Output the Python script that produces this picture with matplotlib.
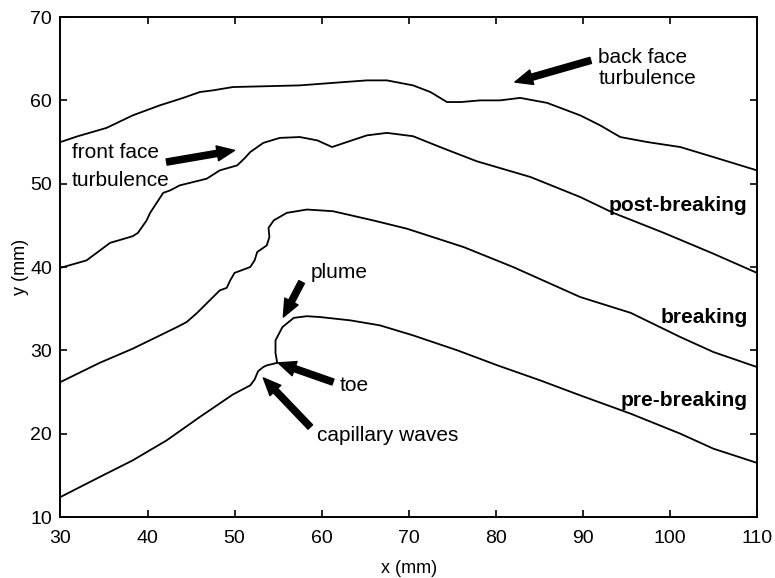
import matplotlib
matplotlib.use("Agg")
import matplotlib.pyplot as plt

plt.rcParams['font.family'] = ['Liberation Sans', 'DejaVu Sans']

# surface profiles (mm)
top_x = [30, 32, 35.3, 38.3, 41.4, 44.1, 46.0, 47.5, 49.8, 53.7, 57.5, 61.3, 65.2, 67.5,
         70.5, 72.5, 74.4, 76, 78.2, 80.5, 82.8, 85.9, 89.7, 92, 94.3, 97.4, 101.2, 105, 110]
top_y = [55.0, 55.7, 56.7, 58.2, 59.4, 60.3, 61.0, 61.2, 61.6, 61.7, 61.8, 62.1, 62.4, 62.4,
         61.8, 61.0, 59.8, 59.8, 60.0, 60.0, 60.3, 59.7, 58.2, 57.0, 55.6, 55.0, 54.4, 53.2, 51.6]

post_x = [30, 33, 35.7, 38.3, 38.9, 39.9, 40.3, 41.8, 42.6, 43.7, 46.8, 48.3, 50.3, 51.2, 51.8,
          53.3, 55.2, 57.5, 59.5, 61.2, 62.9, 65.2, 67.5, 70.5, 73.6, 77.8, 84, 89.7, 93.5,
          99.3, 105, 110]
post_y = [39.9, 40.8, 42.9, 43.7, 44.1, 45.6, 46.5, 48.9, 49.2, 49.8, 50.6, 51.6, 52.2, 53.1, 53.8,
          54.9, 55.5, 55.6, 55.2, 54.4, 55.0, 55.8, 56.1, 55.7, 54.4, 52.7, 50.8, 48.4, 46.5,
          44.1, 41.6, 39.3]

brk_x = [30, 34.5, 38.3, 43.4, 44.5, 45.7, 48.3, 49.1, 49.5, 50.0, 51.8, 52.3, 52.6, 53.7, 54.0,
         53.9, 54.5, 56.0, 58.3, 61.3, 65.9, 69.8, 76.3, 82, 89.7, 95.5, 101.2, 105, 110]
brk_y = [26.2, 28.5, 30.2, 32.8, 33.4, 34.5, 37.2, 37.5, 38.4, 39.3, 40.0, 40.8, 41.8, 42.6, 43.6,
         44.7, 45.6, 46.5, 46.9, 46.7, 45.6, 44.6, 42.4, 40.0, 36.4, 34.5, 31.6, 29.8, 28.0]

pre_x = [30, 34.5, 38.3, 42.2, 46, 49.8, 51.8, 52.3, 52.7, 53.3, 53.7, 54.9, 54.7, 54.7, 55.5,
         56.8, 58.3, 59.8, 63.3, 66.7, 70.5, 75.6, 80.2, 85.1, 89.7, 95.5, 101.2, 105, 110]
pre_y = [12.4, 14.8, 16.8, 19.2, 22.0, 24.7, 25.8, 26.5, 27.5, 28.0, 28.2, 28.5, 29.7, 31.2, 32.8,
         33.9, 34.1, 34.0, 33.6, 33.0, 31.8, 30.0, 28.2, 26.4, 24.6, 22.4, 20.0, 18.2, 16.5]

fig = plt.figure(figsize=(7.75, 5.78), dpi=100)
ax = fig.add_axes([0.078, 0.1055, 0.8987, 0.865])

for xs, ys in [(top_x, top_y), (post_x, post_y), (brk_x, brk_y), (pre_x, pre_y)]:
    ax.plot(xs, ys, color='black', lw=1.3)

ax.set_xlim(30, 110)
ax.set_ylim(10, 70)
ax.set_xticks(range(30, 111, 10))
ax.set_yticks(range(10, 71, 10))
ax.tick_params(direction='in', top=True, right=True, length=5, width=1.2,
               labelsize=14, pad=6)
ax.tick_params(axis='x', pad=9)
for s in ax.spines.values():
    s.set_linewidth(1.4)
ax.set_xlabel('x (mm)', fontsize=13, labelpad=10)
ax.set_ylabel('y (mm)', fontsize=13, labelpad=1)

# bold curve labels
ax.text(108.9, 47.4, 'post-breaking', fontsize=15, fontweight='bold', ha='right', va='center')
ax.text(108.9, 34.0, 'breaking', fontsize=15, fontweight='bold', ha='right', va='center')
ax.text(108.9, 24.0, 'pre-breaking', fontsize=15, fontweight='bold', ha='right', va='center')

arrow = dict(arrowstyle='simple,head_length=0.7,head_width=0.6,tail_width=0.25',
             fc='black', ec='black', shrinkA=0, shrinkB=0, mutation_scale=18)

ax.text(31.3, 53.7, 'front face', fontsize=15, ha='left', va='center')
ax.text(31.3, 50.4, 'turbulence', fontsize=15, ha='left', va='center')
ax.annotate('', xy=(50.0, 54.0), xytext=(42.2, 52.6), arrowprops=arrow)

ax.text(91.8, 65.2, 'back face', fontsize=15, ha='left', va='center')
ax.text(91.8, 62.6, 'turbulence', fontsize=15, ha='left', va='center')
ax.annotate('', xy=(82.2, 62.2), xytext=(90.9, 64.8), arrowprops=arrow)

ax.text(58.7, 39.3, 'plume', fontsize=15, ha='left', va='center')
ax.annotate('', xy=(55.6, 34.0), xytext=(57.7, 38.2), arrowprops=arrow)

ax.text(62.1, 25.8, 'toe', fontsize=15, ha='left', va='center')
ax.annotate('', xy=(55.0, 28.5), xytext=(61.3, 26.2), arrowprops=arrow)

ax.text(59.5, 19.8, 'capillary waves', fontsize=15, ha='left', va='center')
ax.annotate('', xy=(53.3, 26.7), xytext=(58.7, 20.8), arrowprops=arrow)

fig.savefig('out.png', dpi=100)
